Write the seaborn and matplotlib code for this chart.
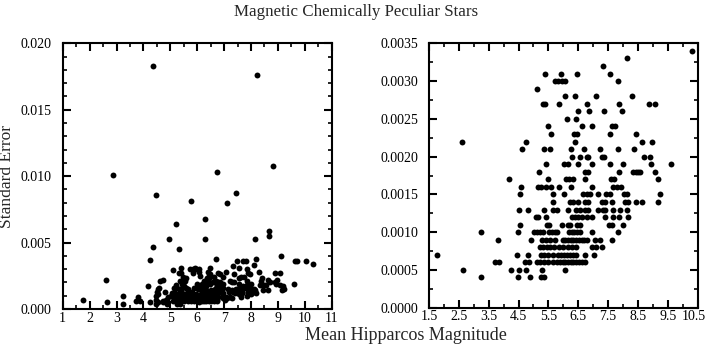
import matplotlib
matplotlib.use("Agg")
import matplotlib.pyplot as plt
import matplotlib.transforms as mtransforms
from matplotlib.ticker import MultipleLocator, FormatStrFormatter
import seaborn as sns
import pandas as pd

# standard error levels (units of 1e-4) and the magnitudes found at each level
se_levels = [34, 33, 32, 31, 30, 29, 28, 27, 26, 25, 24, 23, 22, 21, 20, 19,
             18, 17, 16, 15, 14, 13, 12, 11, 10, 9, 8, 7, 6, 5, 4]
mag_rows = [
    [10.3],
    [8.12],
    [7.32],
    [5.39, 5.91, 6.46, 7.56],
    [5.72, 5.83, 5.95, 6.05, 7.84],
    [5.11],
    [6.06, 6.40, 7.08, 8.29],
    [5.31, 5.39, 5.85, 6.79, 7.88, 8.88, 9.07],
    [6.49, 6.85, 7.36, 7.95],
    [6.12, 6.44],
    [5.47, 6.64, 6.97, 7.62, 7.73],
    [5.59, 6.37, 6.45, 7.56, 8.42],
    [2.62, 4.74, 6.40, 8.63, 8.96],
    [4.60, 5.36, 5.55, 6.27, 6.70, 7.23, 7.84, 8.38],
    [6.29, 6.57, 6.79, 6.84, 7.30, 7.36, 8.71, 8.90],
    [5.42, 6.01, 6.17, 6.49, 6.97, 7.57, 7.99, 8.94, 9.60],
    [5.20, 6.73, 6.84, 7.85, 8.34, 8.42, 8.50, 8.57, 9.07],
    [4.18, 5.50, 6.09, 6.20, 6.33, 6.73, 7.58, 7.70, 9.18],
    [4.58, 5.15, 5.26, 5.42, 5.59, 5.87, 6.24, 6.96, 7.67, 7.79, 7.92],
    [4.55, 5.64, 6.02, 6.67, 6.78, 6.90, 7.15, 7.43, 7.56, 8.03, 8.12, 9.24],
    [5.64, 6.22, 6.33, 6.50, 6.73, 6.84, 7.28, 7.40, 7.62, 8.07, 8.15,
     8.45, 8.62, 9.16],
    [4.51, 4.81, 5.36, 5.66, 5.80, 6.17, 6.41, 6.56, 6.73, 6.84, 7.17, 7.32,
     7.40, 7.67, 7.90, 8.14],
    [5.08, 5.16, 5.42, 6.28, 6.39, 6.50, 6.61, 6.78, 6.97, 7.40, 7.65, 7.88,
     8.18],
    [4.55, 5.44, 5.53, 5.94, 6.15, 6.22, 6.45, 6.56, 7.54, 7.62, 7.99],
    [3.23, 4.47, 5.02, 5.11, 5.22, 5.31, 5.53, 5.62, 5.72, 5.80, 6.19, 6.28,
     6.37, 6.46, 6.55, 6.95, 7.84],
    [3.81, 4.92, 5.27, 5.42, 5.55, 5.72, 5.98, 6.07, 6.16, 6.25, 6.34, 6.43,
     6.52, 6.61, 6.70, 6.79, 7.06, 7.23, 7.62],
    [5.22, 5.33, 5.44, 5.55, 5.70, 5.87, 6.00, 6.15, 6.29, 6.42, 6.95, 7.10,
     7.31],
    [1.76, 4.46, 4.83, 5.25, 5.35, 5.50, 5.66, 5.83, 5.92, 6.02, 6.11, 6.22,
     6.33, 6.44, 6.73, 7.04],
    [3.71, 3.86, 4.72, 4.86, 5.11, 5.22, 5.35, 5.50, 5.66, 5.78, 5.89, 5.98,
     6.07, 6.16, 6.25, 6.34, 6.43, 6.52, 6.61, 6.73],
    [2.63, 4.25, 4.53, 4.74, 5.27, 6.06],
    [3.23, 4.47, 4.88, 5.26, 5.35],
]

# stars with larger errors (only visible in the left panel)
outlier_mag = [4.35, 8.24, 2.86, 6.75, 8.83, 4.46, 7.44, 5.76, 7.10, 6.29,
               5.20, 6.29, 4.95, 8.15, 8.67, 8.67, 4.35, 5.32, 4.25, 9.12,
               6.69, 8.17, 9.64, 9.72, 10.05, 7.48, 7.70, 7.80]
outlier_se = [0.0183, 0.0176, 0.0101, 0.0103, 0.0108, 0.0086, 0.0087, 0.0081,
              0.0080, 0.0068, 0.0064, 0.0053, 0.0053, 0.0053, 0.0059, 0.0055,
              0.0047, 0.0045, 0.0037, 0.0040, 0.0038, 0.0038, 0.0036, 0.0036,
              0.0036, 0.0036, 0.0036, 0.0036]

left_xticks = [1, 2, 3, 4, 5, 6, 7, 8, 9, 10, 11]
right_xticks = [1.5, 2.5, 3.5, 4.5, 5.5, 6.5, 7.5, 8.5, 9.5, 10.5]

rows = []
for lev, mags in zip(se_levels, mag_rows):
    for m in mags:
        rows.append((m, lev * 1e-4))
rows += list(zip(outlier_mag, outlier_se))
df = pd.DataFrame(rows, columns=["mag", "se"])

sns.set_style("ticks")
plt.rcParams["font.family"] = ["Liberation Serif", "DejaVu Serif"]
plt.rcParams["axes.linewidth"] = 1.5

fig = plt.figure(figsize=(7.07, 3.55), dpi=100)
ax1 = fig.add_axes([0.0887, 0.1296, 0.3805, 0.7485])
ax2 = fig.add_axes([0.6068, 0.1332, 0.3800, 0.7448])

for ax in (ax1, ax2):
    sns.scatterplot(data=df, x="mag", y="se", ax=ax, color="black",
                    s=18, linewidth=0, clip_on=True)
    ax.set_xlabel("")
    ax.set_ylabel("")
    for sp in ax.spines.values():
        sp.set_visible(True)
        sp.set_color("black")
    ax.tick_params(which="both", direction="in", top=True, right=True,
                   colors="black", labelsize=10)
    ax.tick_params(which="major", length=6, width=1.5)
    ax.tick_params(which="minor", length=3, width=1.2)
    ax.tick_params(axis="y", pad=8)
    ax.tick_params(axis="x", pad=2)

ax1.set_xlim(1, 11)
ax1.set_ylim(0, 0.020)
ax1.set_xticks(left_xticks)
ax1.xaxis.set_minor_locator(MultipleLocator(0.5))
ax1.yaxis.set_major_locator(MultipleLocator(0.005))
ax1.yaxis.set_minor_locator(MultipleLocator(0.001))
ax1.yaxis.set_major_formatter(FormatStrFormatter("%.3f"))
ax1.set_ylabel("Standard Error", fontsize=12.5, labelpad=4)

ax2.set_xlim(1.5, 10.5)
ax2.set_ylim(0, 0.0035)
ax2.set_xticks(right_xticks, [f"{t:.1f}" for t in right_xticks])
ax2.xaxis.set_minor_locator(MultipleLocator(0.5))
ax2.yaxis.set_major_locator(MultipleLocator(0.0005))
ax2.yaxis.set_minor_locator(MultipleLocator(0.00025))
ax2.yaxis.set_major_formatter(FormatStrFormatter("%.4f"))

# nudge the last right-panel label so it stays inside the figure
last = ax2.get_xticklabels()[-1]
last.set_transform(last.get_transform() +
                   mtransforms.ScaledTranslation(-3 / 72, 0, fig.dpi_scale_trans))

fig.text(0.503, 0.966, "Magnetic Chemically Peculiar Stars", ha="center",
         va="center", fontsize=12.2)
fig.text(0.574, 0.056, "Mean Hipparcos Magnitude", ha="center", va="center",
         fontsize=13)

fig.savefig("out.png", dpi=100)
